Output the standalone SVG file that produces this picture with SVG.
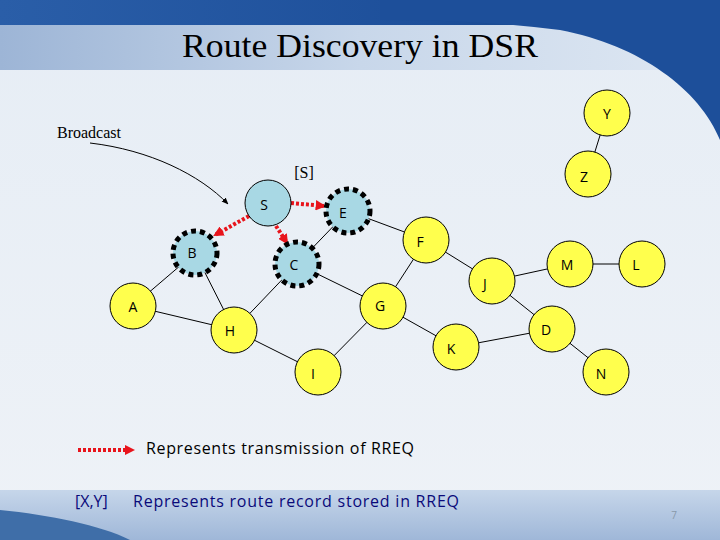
<svg xmlns="http://www.w3.org/2000/svg" width="720" height="540" viewBox="0 0 720 540">
<defs>
<linearGradient id="bg" x1="0" y1="0" x2="0" y2="1"><stop offset="0" stop-color="#e6edf5"/><stop offset="1" stop-color="#eef2f7"/></linearGradient>
<linearGradient id="top" x1="0" y1="0" x2="1" y2="0"><stop offset="0" stop-color="#2a5ea8"/><stop offset="0.6" stop-color="#1d4f9a"/><stop offset="1" stop-color="#14407f"/></linearGradient>
<linearGradient id="band" x1="0" y1="0" x2="1" y2="0"><stop offset="0" stop-color="#9db5d6"/><stop offset="0.5" stop-color="#c8d7ea"/><stop offset="1" stop-color="#dfe8f3"/></linearGradient>
<linearGradient id="bot" x1="0" y1="0" x2="0" y2="1"><stop offset="0" stop-color="#c6d6ea"/><stop offset="1" stop-color="#9fb7d8"/></linearGradient>
<marker id="ra" viewBox="0 0 10 10" refX="8" refY="5" markerWidth="2.6" markerHeight="2.6" orient="auto"><path d="M0,0 L10,5 L0,10 z" fill="#e8141c"/></marker>
<marker id="ba" viewBox="0 0 10 10" refX="9" refY="5" markerWidth="7" markerHeight="7" orient="auto"><path d="M0,1 L10,5 L0,9 z" fill="#000"/></marker>
<style>
.n{fill:#ffff4d;stroke:#000;stroke-width:1}
.s{fill:#a8d8e4;stroke:#000;stroke-width:1}
.d{fill:#a8d8e4;stroke:#000;stroke-width:5;stroke-dasharray:5 4}
.t{font-family:"Open Sans","DejaVu Sans",sans-serif;font-size:14px;text-anchor:middle;dominant-baseline:central;fill:#000}
.e{stroke:#000;stroke-width:1;fill:none}
.r{stroke:#e8141c;stroke-width:4;stroke-dasharray:3 2;fill:none}
</style>
</defs>
<rect width="720" height="540" fill="url(#bg)"/>
<rect width="720" height="30" fill="url(#top)"/>
<path d="M0,25 L720,25 L720,70 L0,70 z" fill="url(#band)"/>
<path d="M380,0 L720,0 L720,140 C700,90 640,45 560,30 C500,22 440,20 380,20 z" fill="#1d4f9a"/>
<path d="M0,490 L720,490 L720,540 L0,540 z" fill="url(#bot)"/>
<path d="M0,510 C50,515 100,525 130,540 L0,540 z" fill="#3f6ea8"/>
<text x="182" y="57" font-family="Liberation Serif,serif" font-size="34" fill="#000" textLength="356" lengthAdjust="spacingAndGlyphs">Route Discovery in DSR</text>
<text x="57" y="138" font-family="Liberation Serif,serif" font-size="16" fill="#000">Broadcast</text>
<text x="304" y="178" font-family="Liberation Serif,serif" font-size="16" text-anchor="middle" fill="#000">[S]</text>
<g id="connectors">
<path class="e" d="M90,143 C150,150 200,175 228,204" marker-end="url(#ba)"/>
<line class="e" x1="607" y1="113" x2="588" y2="174"/>
<line class="e" x1="133" y1="306" x2="195" y2="253"/>
<line class="e" x1="133" y1="306" x2="234" y2="330"/>
<line class="e" x1="195" y1="253" x2="234" y2="330"/>
<line class="e" x1="234" y1="330" x2="297" y2="264"/>
<line class="e" x1="234" y1="330" x2="318" y2="372"/>
<line class="e" x1="297" y1="264" x2="348" y2="211"/>
<line class="e" x1="297" y1="264" x2="383" y2="306"/>
<line class="e" x1="348" y1="211" x2="426" y2="240"/>
<line class="e" x1="426" y1="240" x2="383" y2="306"/>
<line class="e" x1="426" y1="240" x2="492" y2="281"/>
<line class="e" x1="383" y1="306" x2="318" y2="372"/>
<line class="e" x1="383" y1="306" x2="456" y2="347"/>
<line class="e" x1="456" y1="347" x2="552" y2="329"/>
<line class="e" x1="492" y1="281" x2="552" y2="329"/>
<line class="e" x1="492" y1="281" x2="570" y2="264"/>
<line class="e" x1="570" y1="264" x2="642" y2="264"/>
<line class="e" x1="552" y1="329" x2="606" y2="372"/>
<line class="r" x1="291" y1="203" x2="324" y2="206" marker-end="url(#ra)"/>
<line class="r" x1="249" y1="216" x2="215" y2="235" marker-end="url(#ra)"/>
<line class="r" x1="276" y1="226" x2="287" y2="243" marker-end="url(#ra)"/>
<line class="r" x1="78" y1="450" x2="133" y2="450" marker-end="url(#ra)"/>
</g>
<g id="Y"><circle class="n" cx="607" cy="113" r="23"/><text class="t" x="607" y="113">Y</text></g>
<g id="Z"><circle class="n" cx="588" cy="174" r="23"/><text class="t" x="584" y="176">Z</text></g>
<g id="S"><circle class="s" cx="268" cy="203" r="23"/><text class="t" x="264" y="204">S</text></g>
<g id="E"><circle class="d" cx="348" cy="211" r="22"/><text class="t" x="343" y="212">E</text></g>
<g id="B"><circle class="d" cx="195" cy="253" r="22"/><text class="t" x="192" y="252">B</text></g>
<g id="C"><circle class="d" cx="297" cy="264" r="22"/><text class="t" x="294" y="264">C</text></g>
<g id="F"><circle class="n" cx="426" cy="240" r="23"/><text class="t" x="420" y="241">F</text></g>
<g id="J"><circle class="n" cx="492" cy="281" r="23"/><text class="t" x="485" y="283">J</text></g>
<g id="M"><circle class="n" cx="570" cy="264" r="23"/><text class="t" x="567" y="264">M</text></g>
<g id="L"><circle class="n" cx="642" cy="264" r="23"/><text class="t" x="636" y="264">L</text></g>
<g id="A"><circle class="n" cx="133" cy="306" r="23"/><text class="t" x="133" y="306">A</text></g>
<g id="G"><circle class="n" cx="383" cy="306" r="23"/><text class="t" x="380" y="305">G</text></g>
<g id="H"><circle class="n" cx="234" cy="330" r="23"/><text class="t" x="230" y="330">H</text></g>
<g id="D"><circle class="n" cx="552" cy="329" r="23"/><text class="t" x="546" y="329">D</text></g>
<g id="K"><circle class="n" cx="456" cy="347" r="23"/><text class="t" x="451" y="348">K</text></g>
<g id="I"><circle class="n" cx="318" cy="372" r="23"/><text class="t" x="313" y="373">I</text></g>
<g id="N"><circle class="n" cx="606" cy="372" r="23"/><text class="t" x="601" y="373">N</text></g>
<text x="146" y="454" font-family="Open Sans,sans-serif" font-size="16" fill="#000" textLength="268">Represents transmission of RREQ</text>
<text x="75" y="507" font-family="Open Sans,sans-serif" font-size="16" fill="#0a0a7a">[X,Y]</text>
<text x="133" y="507" font-family="Open Sans,sans-serif" font-size="16" fill="#0a0a7a" textLength="326">Represents route record stored in RREQ</text>
<text x="674" y="519" font-family="Open Sans,sans-serif" font-size="10" text-anchor="middle" fill="#8899aa">7</text>
</svg>
